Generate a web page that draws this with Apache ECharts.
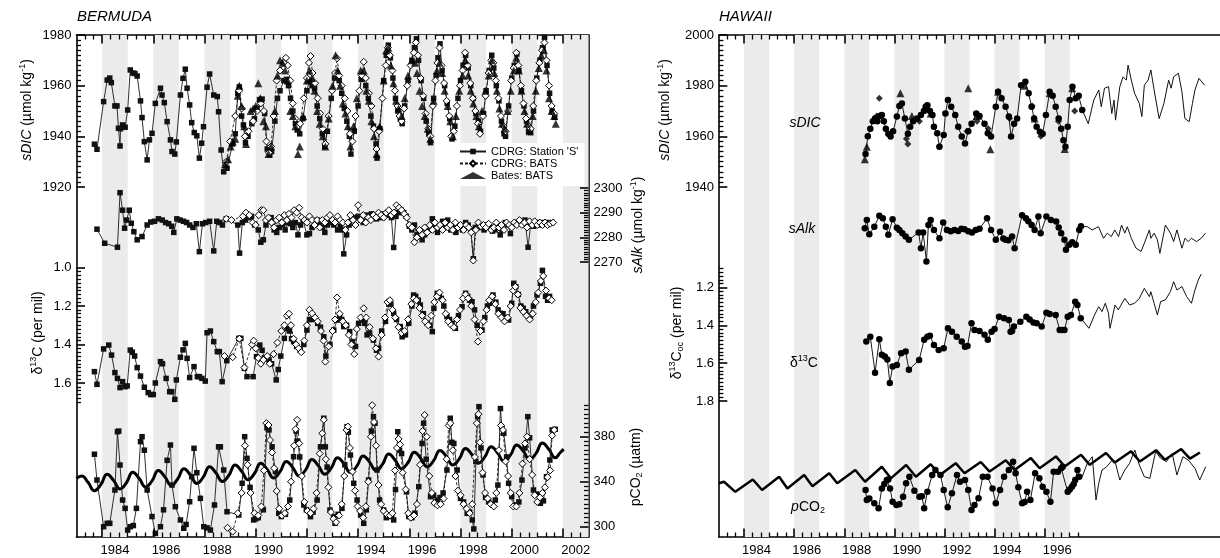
<!DOCTYPE html>
<html><head><meta charset="utf-8">
<script src="https://cdn.jsdelivr.net/npm/echarts/dist/echarts.min.js"></script>
<style>html,body{margin:0;padding:0;background:#fff}#c{width:1220px;height:558px}</style>
</head><body><div id="c"></div>
<script>
// ---------------- axis / tick data ----------------
const B_YEAR_LABELS = [1984,1986,1988,1990,1992,1994,1996,1998,2000,2002];
const H_YEAR_LABELS = [1984,1986,1988,1990,1992,1994,1996];
const B_STRIPES = [1984,1986,1988,1990,1992,1994,1996,1998,2000,2002];
const H_STRIPES = [1984,1986,1988,1990,1992,1994,1996];
const B_TICK_END = 2002.9, H_TICK_END = 1997.34;

// ---------------- BERMUDA data ----------------
const bSdicS = [[1983.70,1936.9],[1983.80,1934.9],[1984.06,1953.7],[1984.20,1962.2],[1984.30,1963.0],[1984.36,1961.2],[1984.50,1952.0],[1984.58,1952.0],[1984.64,1943.2],[1984.70,1936.2],[1984.72,1943.0],[1984.80,1944.5],[1984.90,1943.6],[1985.00,1950.4],[1985.10,1966.2],[1985.20,1965.0],[1985.28,1964.8],[1985.37,1963.8],[1985.50,1954.0],[1985.56,1947.4],[1985.65,1937.9],[1985.76,1930.7],[1985.85,1938.6],[1985.95,1941.2],[1986.08,1953.0],[1986.28,1959.0],[1986.34,1956.3],[1986.43,1953.3],[1986.54,1945.8],[1986.67,1938.6],[1986.73,1934.0],[1986.84,1933.0],[1986.90,1937.8],[1987.06,1956.3],[1987.16,1962.9],[1987.25,1966.5],[1987.32,1959.0],[1987.42,1952.4],[1987.50,1945.4],[1987.60,1941.5],[1987.70,1940.2],[1987.80,1931.4],[1987.89,1937.3],[1987.96,1943.8],[1988.10,1959.4],[1988.20,1964.6],[1988.36,1956.3],[1988.50,1955.7],[1988.55,1949.7],[1988.65,1934.6],[1988.75,1926.0],[1988.88,1927.4],[1989.10,1937.0],[1989.20,1941.0],[1989.30,1957.0],[1989.36,1959.5],[1989.45,1948.0],[1989.52,1944.5],[1989.60,1937.5],[1989.70,1940.0],[1989.85,1945.0],[1989.95,1947.0],[1990.05,1951.0],[1990.15,1954.5],[1990.25,1954.7],[1990.35,1949.0],[1990.45,1935.0],[1990.55,1932.7],[1990.62,1934.0],[1990.75,1946.0],[1990.85,1955.0],[1990.95,1958.0],[1991.10,1962.0],[1991.20,1962.5],[1991.28,1960.0],[1991.36,1955.0],[1991.45,1950.0],[1991.55,1945.0],[1991.62,1942.5],[1991.72,1941.0],[1991.85,1947.0],[1992.00,1958.0],[1992.10,1962.0],[1992.20,1960.0],[1992.30,1959.0],[1992.40,1952.0],[1992.50,1947.0],[1992.60,1941.0],[1992.70,1936.0],[1992.80,1942.0],[1992.95,1955.0],[1993.08,1963.0],[1993.18,1965.0],[1993.26,1962.0],[1993.36,1957.0],[1993.46,1951.0],[1993.56,1946.0],[1993.66,1940.0],[1993.72,1933.0],[1993.85,1942.0],[1994.00,1952.0],[1994.12,1962.5],[1994.22,1963.0],[1994.30,1960.0],[1994.40,1955.0],[1994.50,1948.0],[1994.60,1944.0],[1994.70,1937.0],[1994.74,1931.4],[1994.85,1943.0],[1995.00,1962.0],[1995.10,1972.0],[1995.18,1976.0],[1995.26,1971.0],[1995.36,1963.0],[1995.46,1955.0],[1995.55,1950.0],[1995.65,1947.0],[1995.72,1945.0],[1995.82,1952.0],[1995.95,1962.0],[1996.10,1970.0],[1996.20,1975.0],[1996.28,1978.5],[1996.36,1970.0],[1996.46,1962.0],[1996.56,1955.0],[1996.66,1946.0],[1996.76,1941.0],[1996.83,1937.5],[1996.95,1955.0],[1997.05,1964.0],[1997.12,1971.0],[1997.20,1976.5],[1997.28,1966.0],[1997.38,1960.0],[1997.48,1953.0],[1997.58,1947.0],[1997.67,1939.0],[1997.78,1944.0],[1997.90,1955.0],[1998.00,1962.0],[1998.10,1968.0],[1998.20,1972.0],[1998.30,1967.0],[1998.40,1960.0],[1998.50,1955.0],[1998.60,1949.0],[1998.70,1946.0],[1998.78,1942.0],[1998.90,1949.0],[1999.00,1958.0],[1999.12,1966.0],[1999.22,1972.0],[1999.30,1967.0],[1999.40,1960.0],[1999.50,1954.0],[1999.60,1946.0],[1999.70,1941.0],[1999.76,1940.0],[1999.88,1952.0],[2000.00,1963.0],[2000.10,1968.0],[2000.20,1972.5],[2000.28,1966.0],[2000.38,1958.0],[2000.48,1952.0],[2000.58,1946.0],[2000.66,1942.0],[2000.74,1941.5],[2000.85,1950.0],[2000.98,1963.0],[2001.10,1970.0],[2001.20,1975.0],[2001.28,1979.0],[2001.38,1968.0],[2001.48,1957.0],[2001.58,1950.0],[2001.68,1947.5]];
const bSdicB = [[1988.85,1930],[1989.00,1938],[1989.20,1948],[1989.35,1958],[1989.45,1951],[1989.58,1940],[1989.72,1942],[1989.90,1946],[1990.05,1950],[1990.20,1953],[1990.32,1950],[1990.42,1938],[1990.52,1933.5],[1990.60,1936],[1990.70,1948],[1990.82,1962],[1990.95,1966],[1991.10,1969],[1991.18,1971],[1991.25,1968],[1991.35,1962],[1991.45,1953],[1991.55,1947],[1991.64,1944],[1991.74,1945],[1991.88,1955],[1992.00,1963],[1992.08,1969],[1992.14,1971.7],[1992.22,1965],[1992.32,1961],[1992.42,1955],[1992.52,1949],[1992.62,1943],[1992.72,1937],[1992.85,1948],[1992.98,1958],[1993.10,1965],[1993.18,1970.8],[1993.26,1964],[1993.36,1960],[1993.48,1955],[1993.58,1950],[1993.68,1941],[1993.78,1938],[1993.90,1948],[1994.05,1958],[1994.15,1964],[1994.22,1969.4],[1994.30,1963],[1994.42,1957],[1994.52,1952],[1994.62,1943],[1994.72,1935],[1994.82,1942],[1994.95,1955],[1995.08,1968],[1995.16,1975],[1995.24,1972],[1995.34,1966],[1995.44,1958],[1995.54,1952],[1995.62,1948],[1995.70,1946],[1995.80,1951],[1995.92,1960],[1996.05,1968],[1996.18,1973],[1996.26,1977],[1996.34,1972],[1996.44,1963],[1996.54,1956],[1996.64,1949],[1996.74,1943],[1996.82,1940],[1996.92,1952],[1997.02,1962],[1997.10,1969],[1997.18,1975],[1997.26,1968],[1997.36,1961],[1997.46,1954],[1997.56,1948],[1997.64,1940],[1997.74,1942],[1997.86,1952],[1997.98,1960],[1998.08,1966],[1998.18,1973],[1998.28,1968],[1998.38,1961],[1998.48,1955],[1998.58,1950],[1998.68,1945],[1998.76,1941],[1998.88,1948],[1998.98,1956],[1999.10,1965],[1999.20,1970],[1999.28,1969],[1999.38,1962],[1999.48,1955],[1999.58,1948],[1999.68,1944],[1999.76,1942],[1999.86,1950],[1999.98,1962],[2000.08,1967],[2000.18,1973],[2000.26,1968],[2000.36,1960],[2000.46,1953],[2000.56,1947],[2000.66,1944],[2000.74,1943],[2000.84,1952],[2000.96,1962],[2001.08,1969],[2001.18,1974],[2001.28,1977],[2001.36,1970],[2001.46,1960],[2001.56,1952],[2001.66,1949]];
const bSdicT = [[1988.80,1929],[1988.92,1931],[1989.02,1936],[1989.10,1938],[1989.20,1939],[1989.30,1956],[1989.36,1960],[1989.45,1952],[1989.55,1944],[1989.62,1937],[1989.80,1950],[1989.90,1951],[1990.00,1952],[1990.10,1961],[1990.18,1955],[1990.30,1946],[1990.40,1944],[1990.50,1933],[1990.60,1936],[1990.75,1950],[1990.85,1964],[1990.95,1970],[1991.05,1969],[1991.15,1966],[1991.25,1962],[1991.35,1950],[1991.45,1948],[1991.55,1944],[1991.65,1933],[1991.72,1936],[1991.85,1948],[1992.00,1962],[1992.10,1966],[1992.20,1963],[1992.30,1958],[1992.40,1950],[1992.50,1945],[1992.62,1940],[1992.72,1936],[1992.85,1947],[1993.00,1960],[1993.12,1972],[1993.20,1966],[1993.30,1960],[1993.40,1953],[1993.50,1949],[1993.60,1944],[1993.70,1936],[1993.82,1944],[1993.95,1955],[1994.10,1966],[1994.22,1966],[1994.32,1958],[1994.42,1954],[1994.52,1946],[1994.62,1940],[1994.72,1933],[1994.84,1944],[1995.00,1962],[1995.10,1974],[1995.18,1975],[1995.28,1968],[1995.38,1961],[1995.48,1954],[1995.58,1951],[1995.70,1948],[1995.82,1955],[1995.95,1964],[1996.10,1970],[1996.22,1969],[1996.30,1965],[1996.40,1958],[1996.50,1952],[1996.60,1948],[1996.72,1943],[1996.82,1939],[1996.95,1954],[1997.08,1966],[1997.18,1969],[1997.28,1965],[1997.38,1958],[1997.50,1952],[1997.60,1946],[1997.70,1940],[1997.82,1948],[1997.95,1958],[1998.08,1964],[1998.18,1970],[1998.30,1964],[1998.40,1958],[1998.50,1953],[1998.62,1948],[1998.72,1944],[1998.84,1950],[1998.98,1958],[1999.10,1964],[1999.22,1970],[1999.32,1965],[1999.42,1958],[1999.52,1951],[1999.62,1945],[1999.72,1943],[1999.84,1950],[1999.96,1958],[2000.08,1966],[2000.18,1971],[2000.28,1966],[2000.38,1958],[2000.50,1950],[2000.60,1945],[2000.70,1942],[2000.82,1948],[2000.94,1958],[2001.06,1967],[2001.16,1972],[2001.26,1974],[2001.36,1966],[2001.46,1955],[2001.56,1950],[2001.66,1948],[2001.72,1945]];

const bAlkS = [[1983.80,2283.3],[1984.10,2277.6],[1984.60,2276.0],[1984.70,2298.1],[1984.80,2291.0],[1984.88,2283.7],[1984.96,2287.0],[1985.06,2291.0],[1985.14,2285.7],[1985.24,2282.3],[1985.37,2279.0],[1985.56,2280.3],[1985.76,2285.0],[1985.90,2286.2],[1986.05,2286.5],[1986.20,2287.5],[1986.35,2287.0],[1986.48,2286.0],[1986.60,2285.5],[1986.72,2284.5],[1986.80,2282.0],[1986.92,2287.5],[1987.05,2287.0],[1987.18,2286.5],[1987.30,2286.0],[1987.42,2285.0],[1987.55,2284.0],[1987.68,2285.5],[1987.80,2274.2],[1987.92,2285.5],[1988.05,2286.0],[1988.20,2286.5],[1988.36,2274.5],[1988.48,2286.5],[1988.60,2286.0],[1988.70,2285.0],[1988.85,2287.5],[1989.30,2285.0],[1989.37,2273.6],[1989.48,2286.0],[1989.60,2287.0],[1989.72,2288.0],[1989.84,2288.5],[1989.96,2285.0],[1990.10,2283.0],[1990.20,2278.0],[1990.30,2279.0],[1990.40,2285.0],[1990.50,2287.0],[1990.60,2288.0],[1990.72,2283.0],[1990.82,2282.0],[1990.92,2284.0],[1991.05,2285.0],[1991.15,2283.0],[1991.25,2286.0],[1991.35,2285.5],[1991.45,2284.0],[1991.55,2286.0],[1991.65,2281.0],[1991.75,2285.0],[1991.85,2287.0],[1992.00,2281.0],[1992.10,2281.5],[1992.20,2284.0],[1992.30,2286.0],[1992.40,2287.0],[1992.50,2285.0],[1992.60,2284.0],[1992.70,2282.0],[1992.80,2285.0],[1992.90,2286.0],[1993.05,2285.0],[1993.20,2283.0],[1993.30,2284.5],[1993.40,2283.0],[1993.44,2273.3],[1993.55,2281.0],[1993.65,2285.0],[1993.75,2287.0],[1993.85,2288.0],[1994.00,2288.5],[1994.10,2287.0],[1994.20,2286.0],[1994.32,2289.0],[1994.42,2288.0],[1994.52,2289.5],[1994.62,2288.0],[1994.72,2287.5],[1994.82,2289.0],[1994.92,2288.0],[1995.02,2289.5],[1995.12,2289.0],[1995.22,2289.0],[1995.30,2288.0],[1995.39,2275.9],[1995.48,2288.5],[1995.58,2290.0],[1995.68,2291.0],[1995.78,2290.0],[1995.88,2288.5],[1996.00,2284.5],[1996.10,2283.0],[1996.20,2285.0],[1996.30,2281.0],[1996.40,2282.5],[1996.50,2279.0],[1996.60,2281.0],[1996.70,2283.5],[1996.80,2284.0],[1996.90,2287.5],[1997.00,2285.0],[1997.10,2282.0],[1997.20,2284.0],[1997.30,2286.5],[1997.40,2285.0],[1997.50,2287.0],[1997.62,2283.0],[1997.72,2284.5],[1997.82,2282.0],[1997.95,2284.0],[1998.08,2283.0],[1998.20,2286.0],[1998.30,2285.0],[1998.40,2283.0],[1998.50,2271.3],[1998.58,2284.0],[1998.70,2285.0],[1998.80,2284.0],[1998.92,2283.0],[1999.05,2285.0],[1999.15,2284.0],[1999.25,2282.5],[1999.35,2283.0],[1999.45,2285.0],[1999.55,2281.0],[1999.65,2283.0],[1999.75,2286.0],[1999.85,2285.0],[1999.95,2281.5],[2000.08,2285.5],[2000.20,2286.0],[2000.32,2285.5],[2000.42,2286.0],[2000.52,2287.0],[2000.64,2276.0],[2000.75,2286.0],[2000.85,2284.5],[2000.95,2286.0],[2001.05,2285.0],[2001.15,2286.0],[2001.30,2285.5],[2001.45,2286.0]];
const bAlkB = [[1988.85,2287.5],[1989.05,2287.0],[1989.50,2288.5],[1989.62,2290.0],[1989.75,2289.0],[1989.88,2286.0],[1990.00,2285.0],[1990.12,2289.0],[1990.22,2291.0],[1990.30,2291.0],[1990.40,2287.0],[1990.50,2288.0],[1990.62,2286.0],[1990.72,2284.0],[1990.82,2287.0],[1990.92,2288.0],[1991.02,2286.0],[1991.12,2289.0],[1991.22,2287.0],[1991.30,2289.5],[1991.40,2288.0],[1991.50,2291.0],[1991.60,2290.0],[1991.70,2292.0],[1991.80,2288.0],[1991.90,2287.0],[1992.00,2286.0],[1992.10,2288.5],[1992.20,2287.0],[1992.30,2285.0],[1992.40,2287.0],[1992.50,2284.0],[1992.60,2287.0],[1992.70,2286.0],[1992.80,2288.0],[1992.90,2289.0],[1993.00,2287.0],[1993.10,2286.0],[1993.20,2288.5],[1993.30,2287.0],[1993.40,2286.0],[1993.50,2283.0],[1993.60,2286.0],[1993.70,2289.0],[1993.80,2287.0],[1993.90,2285.0],[1994.00,2293.0],[1994.10,2287.0],[1994.20,2289.0],[1994.30,2286.0],[1994.40,2288.0],[1994.50,2287.0],[1994.60,2289.0],[1994.70,2288.0],[1994.80,2290.0],[1994.90,2289.0],[1995.00,2288.0],[1995.10,2290.0],[1995.20,2291.0],[1995.30,2289.0],[1995.40,2290.0],[1995.50,2293.0],[1995.60,2292.0],[1995.70,2291.0],[1995.80,2289.5],[1995.90,2288.0],[1996.00,2285.0],[1996.10,2284.0],[1996.20,2278.0],[1996.30,2280.0],[1996.40,2283.0],[1996.50,2281.0],[1996.60,2284.0],[1996.70,2282.0],[1996.80,2285.0],[1996.90,2283.0],[1997.00,2286.0],[1997.10,2284.0],[1997.20,2285.0],[1997.30,2283.0],[1997.40,2286.0],[1997.50,2284.0],[1997.60,2285.0],[1997.70,2283.0],[1997.80,2286.0],[1997.90,2284.0],[1998.00,2285.0],[1998.12,2283.0],[1998.22,2285.0],[1998.32,2284.0],[1998.42,2282.0],[1998.50,2270.6],[1998.60,2283.0],[1998.70,2286.0],[1998.80,2284.5],[1998.90,2285.0],[1999.00,2284.0],[1999.10,2285.5],[1999.20,2283.0],[1999.30,2284.0],[1999.40,2286.0],[1999.50,2284.0],[1999.60,2285.0],[1999.70,2283.0],[1999.80,2286.0],[1999.90,2285.0],[2000.00,2284.0],[2000.10,2286.0],[2000.20,2285.0],[2000.30,2287.0],[2000.40,2285.0],[2000.50,2286.0],[2000.60,2284.0],[2000.70,2286.5],[2000.80,2285.0],[2000.90,2286.5],[2001.00,2285.0],[2001.10,2286.0],[2001.20,2285.0],[2001.30,2286.0],[2001.40,2285.0],[2001.50,2285.5],[2001.62,2286.0]];

const bD13S = [[1983.70,1.541],[1983.80,1.607],[1984.06,1.423],[1984.26,1.403],[1984.37,1.455],[1984.50,1.546],[1984.60,1.576],[1984.70,1.624],[1984.80,1.593],[1984.90,1.619],[1984.98,1.615],[1985.10,1.429],[1985.18,1.44],[1985.27,1.46],[1985.37,1.52],[1985.50,1.564],[1985.65,1.622],[1985.80,1.65],[1985.90,1.66],[1986.00,1.66],[1986.08,1.60],[1986.28,1.489],[1986.36,1.50],[1986.50,1.576],[1986.64,1.645],[1986.72,1.645],[1986.84,1.685],[1986.90,1.584],[1987.06,1.466],[1987.16,1.428],[1987.25,1.394],[1987.32,1.472],[1987.42,1.572],[1987.59,1.515],[1987.72,1.567],[1987.80,1.567],[1987.90,1.576],[1988.03,1.59],[1988.10,1.339],[1988.23,1.33],[1988.36,1.385],[1988.50,1.437],[1988.58,1.437],[1988.69,1.593],[1988.87,1.484],[1989.34,1.368],[1989.42,1.368],[1989.56,1.524],[1989.66,1.567],[1989.90,1.567],[1990.03,1.463],[1990.16,1.403],[1990.25,1.43],[1990.34,1.47],[1990.44,1.475],[1990.52,1.48],[1990.62,1.50],[1990.80,1.584],[1990.88,1.53],[1990.98,1.46],[1991.12,1.368],[1991.22,1.316],[1991.32,1.33],[1991.40,1.37],[1991.48,1.385],[1991.60,1.41],[1991.74,1.43],[1991.88,1.40],[1992.00,1.325],[1992.10,1.27],[1992.20,1.27],[1992.30,1.264],[1992.42,1.29],[1992.53,1.31],[1992.66,1.36],[1992.74,1.46],[1992.90,1.40],[1993.05,1.325],[1993.18,1.273],[1993.28,1.26],[1993.36,1.27],[1993.44,1.307],[1993.55,1.30],[1993.67,1.333],[1993.77,1.385],[1993.90,1.41],[1994.02,1.29],[1994.16,1.273],[1994.26,1.29],[1994.35,1.35],[1994.45,1.34],[1994.60,1.377],[1994.72,1.43],[1994.80,1.42],[1994.92,1.33],[1995.07,1.28],[1995.20,1.19],[1995.28,1.19],[1995.39,1.238],[1995.50,1.27],[1995.65,1.307],[1995.72,1.36],[1995.85,1.35],[1995.98,1.29],[1996.10,1.20],[1996.17,1.143],[1996.25,1.15],[1996.35,1.17],[1996.43,1.195],[1996.55,1.24],[1996.70,1.29],[1996.80,1.30],[1996.90,1.333],[1996.96,1.212],[1997.09,1.134],[1997.17,1.14],[1997.25,1.16],[1997.35,1.20],[1997.47,1.255],[1997.57,1.27],[1997.67,1.29],[1997.80,1.316],[1997.92,1.25],[1998.06,1.204],[1998.20,1.134],[1998.28,1.15],[1998.36,1.17],[1998.45,1.178],[1998.55,1.22],[1998.65,1.30],[1998.84,1.325],[1998.95,1.26],[1999.05,1.20],[1999.14,1.186],[1999.27,1.143],[1999.38,1.18],[1999.47,1.22],[1999.56,1.238],[1999.66,1.24],[1999.76,1.26],[1999.88,1.273],[2000.00,1.186],[2000.08,1.082],[2000.16,1.10],[2000.26,1.14],[2000.36,1.20],[2000.45,1.212],[2000.55,1.23],[2000.66,1.25],[2000.73,1.255],[2000.85,1.20],[2000.99,1.143],[2001.12,1.082],[2001.20,1.015],[2001.32,1.15],[2001.40,1.17],[2001.48,1.15]];
const bD13B = [[1988.78,1.46],[1989.10,1.466],[1989.36,1.37],[1989.56,1.52],[1989.86,1.40],[1989.92,1.38],[1990.00,1.42],[1990.10,1.47],[1990.20,1.50],[1990.30,1.48],[1990.45,1.46],[1990.55,1.50],[1990.70,1.45],[1990.85,1.39],[1991.00,1.33],[1991.12,1.30],[1991.22,1.25],[1991.30,1.24],[1991.38,1.30],[1991.48,1.37],[1991.58,1.40],[1991.68,1.42],[1991.78,1.44],[1991.90,1.38],[1992.00,1.30],[1992.10,1.22],[1992.20,1.238],[1992.32,1.26],[1992.42,1.28],[1992.55,1.33],[1992.65,1.38],[1992.72,1.489],[1992.85,1.41],[1993.00,1.33],[1993.10,1.27],[1993.18,1.156],[1993.28,1.24],[1993.40,1.28],[1993.52,1.30],[1993.64,1.35],[1993.74,1.40],[1993.85,1.45],[1993.95,1.32],[1994.10,1.26],[1994.22,1.212],[1994.32,1.26],[1994.45,1.31],[1994.58,1.37],[1994.70,1.42],[1994.80,1.463],[1994.92,1.35],[1995.05,1.26],[1995.15,1.18],[1995.24,1.17],[1995.34,1.22],[1995.45,1.26],[1995.58,1.31],[1995.70,1.34],[1995.82,1.33],[1995.95,1.27],[1996.08,1.19],[1996.18,1.16],[1996.28,1.17],[1996.40,1.21],[1996.50,1.25],[1996.62,1.28],[1996.74,1.30],[1996.86,1.25],[1996.98,1.18],[1997.08,1.15],[1997.18,1.13],[1997.30,1.17],[1997.42,1.24],[1997.52,1.28],[1997.64,1.30],[1997.74,1.31],[1997.86,1.27],[1997.98,1.22],[1998.10,1.16],[1998.20,1.14],[1998.30,1.16],[1998.42,1.20],[1998.55,1.27],[1998.68,1.385],[1998.78,1.33],[1998.90,1.28],[1999.02,1.22],[1999.12,1.17],[1999.24,1.15],[1999.36,1.19],[1999.48,1.24],[1999.60,1.26],[1999.72,1.28],[1999.84,1.26],[1999.96,1.20],[2000.06,1.12],[2000.14,1.10],[2000.24,1.14],[2000.34,1.21],[2000.46,1.23],[2000.58,1.25],[2000.70,1.27],[2000.82,1.24],[2000.94,1.18],[2001.04,1.13],[2001.14,1.07],[2001.23,1.044],[2001.34,1.12],[2001.46,1.16],[2001.56,1.17]];

const bPco2S = [[1983.70,364.4],[1983.80,341.5],[1984.06,300],[1984.20,303],[1984.30,303],[1984.50,332.6],[1984.60,384.4],[1984.65,385],[1984.70,354.8],[1984.80,323.7],[1984.90,316.3],[1985.00,297],[1985.10,300],[1985.22,301],[1985.34,316.3],[1985.50,375.6],[1985.56,380],[1985.65,368],[1985.76,332.6],[1985.95,309],[1986.08,294],[1986.28,300],[1986.40,315],[1986.54,359],[1986.67,372.6],[1986.73,337],[1986.86,317.8],[1987.06,306],[1987.19,298.6],[1987.28,302],[1987.42,322.2],[1987.50,344.4],[1987.59,369.7],[1987.70,348],[1987.84,325.2],[1987.97,300],[1988.10,299],[1988.23,297],[1988.39,319.3],[1988.55,371],[1988.62,371],[1988.75,350.4],[1988.88,313.3],[1989.34,310.4],[1989.47,338.6],[1989.57,380],[1989.66,360.8],[1989.78,335],[1989.92,306],[1990.00,307],[1990.10,308],[1990.30,315],[1990.44,388],[1990.52,386],[1990.64,371],[1990.77,349],[1990.90,311.9],[1991.00,309],[1991.16,311],[1991.33,323.7],[1991.48,362.2],[1991.58,385],[1991.64,376],[1991.72,362],[1991.88,319.3],[1991.98,315],[1992.14,308.9],[1992.24,313],[1992.40,323.7],[1992.53,371],[1992.66,396.4],[1992.72,371],[1992.79,353],[1992.90,314.8],[1993.05,309],[1993.10,303],[1993.22,311],[1993.37,316.3],[1993.48,355],[1993.57,388.9],[1993.62,384],[1993.70,363.7],[1993.83,338.6],[1993.96,323.7],[1994.10,310.4],[1994.22,303],[1994.32,315],[1994.41,341.5],[1994.52,385],[1994.60,397.8],[1994.66,392],[1994.74,350.4],[1994.84,323.7],[1995.00,314.8],[1995.10,308],[1995.22,309],[1995.30,310],[1995.39,306],[1995.46,333],[1995.55,384.4],[1995.62,368],[1995.70,365],[1995.89,331],[1995.98,309],[1996.10,308],[1996.22,312],[1996.37,335.6],[1996.50,374],[1996.56,392],[1996.66,360],[1996.83,326.7],[1996.95,328],[1997.09,323.7],[1997.20,326],[1997.32,330],[1997.47,350.4],[1997.60,396.4],[1997.66,375],[1997.74,374],[1997.87,350.4],[1998.00,325.2],[1998.12,322],[1998.26,311.9],[1998.36,313],[1998.46,306],[1998.52,298],[1998.60,358],[1998.67,397.8],[1998.72,406.7],[1998.80,370],[1998.88,346],[1998.98,326],[1999.10,322.2],[1999.22,320],[1999.36,323.7],[1999.46,337],[1999.56,405],[1999.62,388],[1999.69,383],[1999.80,362],[1999.88,338.6],[2000.00,326.7],[2000.15,319.3],[2000.28,322],[2000.40,341.5],[2000.52,370],[2000.63,397.8],[2000.70,379],[2000.85,332.6],[2000.98,329],[2001.12,320.8],[2001.24,323],[2001.36,344.4],[2001.49,359.3],[2001.58,386],[2001.70,386.6]];
const bPco2B = [[1988.90,299],[1989.10,295.6],[1989.30,312],[1989.45,330],[1989.58,372],[1989.68,355],[1989.80,330],[1989.95,312],[1990.10,310],[1990.22,318],[1990.32,350],[1990.42,392],[1990.50,390.4],[1990.56,377],[1990.64,366],[1990.72,352],[1990.82,331.7],[1990.92,316],[1991.02,310],[1991.14,312],[1991.26,318],[1991.38,340],[1991.50,372],[1991.56,386.6],[1991.62,395],[1991.70,374],[1991.80,345],[1991.90,322],[1992.02,314],[1992.14,312],[1992.26,316],[1992.38,330],[1992.50,365],[1992.60,383],[1992.66,395],[1992.74,360],[1992.84,335],[1992.94,313],[1993.04,307],[1993.14,304],[1993.26,310],[1993.36,320],[1993.46,345],[1993.55,386],[1993.60,389],[1993.68,370],[1993.78,349],[1993.88,332],[1993.98,318],[1994.08,314],[1994.20,308],[1994.30,318],[1994.40,340],[1994.50,380],[1994.55,408],[1994.62,393],[1994.70,372],[1994.80,337],[1994.90,320],[1995.00,314],[1995.12,311],[1995.24,310],[1995.34,312],[1995.44,350],[1995.52,370],[1995.58,378],[1995.64,373],[1995.74,348],[1995.86,333],[1995.96,312],[1996.06,308],[1996.18,310],[1996.30,320],[1996.42,355],[1996.52,385],[1996.60,399.3],[1996.68,380],[1996.78,345],[1996.88,330],[1996.98,321],[1997.10,319],[1997.22,320],[1997.34,325],[1997.46,360],[1997.54,390],[1997.60,392],[1997.70,368],[1997.80,345],[1997.90,332],[1998.00,328],[1998.12,320],[1998.24,316],[1998.36,312],[1998.46,320],[1998.56,362],[1998.64,392],[1998.70,400],[1998.76,375],[1998.86,348],[1998.96,330],[1999.06,325],[1999.18,320],[1999.30,318],[1999.40,330],[1999.50,368],[1999.58,390],[1999.66,386],[1999.76,358],[1999.86,345],[1999.96,330],[2000.06,318],[2000.18,318],[2000.30,330],[2000.42,356],[2000.52,374],[2000.60,380],[2000.70,360],[2000.80,346],[2000.90,328],[2001.00,322],[2001.10,326],[2001.20,330],[2001.30,335],[2001.40,344],[2001.50,350],[2001.58,381],[2001.66,386]];
const bPco2Atm = [[1983.0,343.0],[1983.2,345.0],[1983.45,339.5],[1983.7,332.0],[1983.95,337.5],[1984.2,346.6],[1984.45,341.1],[1984.7,333.6],[1984.95,339.1],[1985.2,348.3],[1985.45,342.8],[1985.7,335.3],[1985.95,340.8],[1986.2,349.9],[1986.45,344.4],[1986.7,336.9],[1986.95,342.4],[1987.2,351.5],[1987.45,346.0],[1987.7,338.5],[1987.95,344.0],[1988.2,353.2],[1988.45,347.7],[1988.7,340.2],[1988.95,345.7],[1989.2,354.8],[1989.45,349.3],[1989.7,341.8],[1989.95,347.3],[1990.2,356.4],[1990.45,350.9],[1990.7,343.4],[1990.95,348.9],[1991.2,358.0],[1991.45,352.5],[1991.7,345.0],[1991.95,350.5],[1992.2,359.7],[1992.45,354.2],[1992.7,346.7],[1992.95,352.2],[1993.2,361.3],[1993.45,355.8],[1993.7,348.3],[1993.95,353.8],[1994.2,362.9],[1994.45,357.4],[1994.7,349.9],[1994.95,355.4],[1995.2,364.6],[1995.45,359.1],[1995.7,351.6],[1995.95,357.1],[1996.2,366.2],[1996.45,360.7],[1996.7,353.2],[1996.95,358.7],[1997.2,367.8],[1997.45,362.3],[1997.7,354.8],[1997.95,360.3],[1998.2,369.5],[1998.45,364.0],[1998.7,356.5],[1998.95,362.0],[1999.2,371.1],[1999.45,365.6],[1999.7,358.1],[1999.95,363.6],[2000.2,372.7],[2000.45,367.2],[2000.7,359.7],[2000.95,365.2],[2001.2,374.3],[2001.45,368.8],[2001.7,361.3],[2001.9,366.0],[2002.03,369.0]];

// ---------------- HAWAII data ----------------
const hSdic = [[1988.85,1953],[1988.94,1960],[1989.04,1963],[1989.14,1966],[1989.23,1967],[1989.32,1966],[1989.42,1968],[1989.50,1968.4],[1989.58,1966],[1989.66,1963],[1989.76,1961],[1989.85,1959.9],[1989.95,1962],[1990.10,1967.8],[1990.20,1972],[1990.30,1973],[1990.42,1967],[1990.54,1961],[1990.63,1963.8],[1990.75,1966],[1990.90,1967],[1991.06,1968.4],[1991.18,1970],[1991.25,1971.7],[1991.32,1972.3],[1991.42,1970],[1991.52,1968.4],[1991.58,1963.8],[1991.71,1961.2],[1991.80,1955.9],[1991.97,1960.5],[1992.04,1969],[1992.14,1974.3],[1992.27,1971.7],[1992.43,1968.4],[1992.55,1963.8],[1992.69,1959.9],[1992.82,1957.2],[1992.95,1962],[1993.08,1965],[1993.27,1969],[1993.40,1968],[1993.60,1965],[1993.73,1961.2],[1993.86,1959.9],[1994.05,1971.7],[1994.14,1977.6],[1994.28,1975],[1994.44,1971.7],[1994.57,1967.8],[1994.66,1959.9],[1994.78,1965],[1994.90,1967],[1995.06,1980.2],[1995.23,1981.5],[1995.36,1977],[1995.48,1971.7],[1995.58,1967],[1995.68,1963.8],[1995.81,1961.8],[1995.92,1961],[1996.05,1968.4],[1996.20,1977.6],[1996.32,1976],[1996.44,1971.7],[1996.56,1967],[1996.66,1963],[1996.75,1958.5],[1996.83,1955.9],[1996.92,1963.8],[1997.00,1974.3],[1997.11,1979.6],[1997.24,1975],[1997.36,1976],[1997.50,1970.4]];
const hSdicTri = [[1988.82,1951],[1988.90,1955.9],[1989.23,1967],[1990.24,1977],[1990.70,1968],[1991.25,1972],[1991.45,1969],[1992.95,1979],[1993.30,1968],[1993.83,1954.9],[1994.14,1977.6],[1995.20,1980],[1995.60,1967],[1996.20,1977],[1996.80,1955],[1997.10,1979]];
const hSdicDia = [[1989.40,1975],[1989.30,1968],[1990.54,1957],[1990.48,1959],[1991.00,1966],[1991.80,1955.9],[1992.90,1962],[1993.30,1966],[1993.75,1963],[1994.60,1967],[1995.50,1972],[1995.85,1960],[1996.55,1966],[1997.20,1970]];
const hSdicLate = [[1997.50,1970.4],[1997.74,1965],[1997.96,1974.3],[1998.16,1978.3],[1998.26,1971.7],[1998.39,1979],[1998.55,1979.6],[1998.68,1969],[1998.77,1974.3],[1998.83,1966.4],[1999.00,1979.6],[1999.13,1983.5],[1999.26,1982.2],[1999.33,1988.1],[1999.46,1982.2],[1999.59,1977],[1999.78,1973],[1999.88,1967.8],[1999.98,1980.2],[2000.13,1982.2],[2000.24,1986.2],[2000.37,1978.3],[2000.57,1967],[2000.76,1973],[2000.95,1982.2],[2001.05,1979],[2001.15,1983.5],[2001.34,1984.9],[2001.48,1977.6],[2001.60,1967],[2001.77,1965.8],[2001.90,1973],[2002.00,1978.3],[2002.16,1982.9],[2002.38,1980.2]];

const hAlk = [[1988.82,2283.7],[1988.90,2287],[1989.00,2281.2],[1989.20,2284.3],[1989.40,2288.7],[1989.54,2287.7],[1989.66,2284.3],[1989.76,2281],[1989.93,2287.3],[1990.10,2283.9],[1990.20,2283],[1990.32,2281.7],[1990.45,2280.3],[1990.58,2279],[1990.97,2282],[1991.06,2275.6],[1991.15,2282],[1991.28,2270.2],[1991.36,2285],[1991.45,2287],[1991.58,2283],[1991.80,2279.6],[1991.95,2286],[1992.10,2283],[1992.25,2282.5],[1992.40,2283],[1992.55,2282.6],[1992.68,2283.5],[1992.80,2283.3],[1992.95,2282.5],[1993.10,2282],[1993.25,2283],[1993.40,2283.5],[1993.70,2287.7],[1993.86,2283],[1994.05,2279],[1994.22,2282.3],[1994.35,2279.5],[1994.44,2279],[1994.55,2278.8],[1994.70,2280.3],[1994.80,2275.6],[1995.10,2289],[1995.25,2287.7],[1995.35,2286.5],[1995.48,2285],[1995.60,2283],[1995.75,2288.4],[1995.84,2281.7],[1996.07,2288.4],[1996.25,2287],[1996.46,2286.4],[1996.56,2284],[1996.66,2281.7],[1996.79,2279],[1996.85,2275],[1996.98,2277],[1997.10,2278],[1997.24,2277],[1997.38,2283],[1997.45,2284.5]];
const hAlkLate = [[1997.45,2284.5],[1997.70,2284.3],[1997.90,2283],[1998.15,2284.3],[1998.35,2279.6],[1998.50,2281.7],[1998.66,2280.3],[1998.80,2283],[1998.95,2280.3],[1999.07,2285],[1999.20,2281.7],[1999.30,2284.3],[1999.46,2279.6],[1999.65,2275.6],[1999.85,2274.3],[1999.98,2277.6],[2000.18,2283],[2000.24,2279.6],[2000.37,2281.7],[2000.50,2279],[2000.60,2273.5],[2000.82,2285],[2001.02,2281.7],[2001.15,2278.3],[2001.28,2283],[2001.48,2275.6],[2001.60,2279.6],[2001.73,2278.3],[2001.86,2279.6],[2002.06,2278.3],[2002.25,2279.6],[2002.42,2281.7]];

const hD13 = [[1988.88,1.486],[1989.04,1.46],[1989.23,1.65],[1989.40,1.474],[1989.50,1.556],[1989.62,1.565],[1989.72,1.58],[1989.82,1.705],[1989.93,1.618],[1990.10,1.609],[1990.27,1.547],[1990.45,1.539],[1990.58,1.635],[1990.99,1.583],[1991.19,1.477],[1991.32,1.46],[1991.42,1.455],[1991.58,1.504],[1991.77,1.53],[1991.97,1.521],[1992.14,1.416],[1992.30,1.434],[1992.49,1.46],[1992.69,1.486],[1992.82,1.513],[1992.92,1.51],[1993.08,1.389],[1993.20,1.425],[1993.40,1.43],[1993.60,1.45],[1993.73,1.477],[1993.88,1.434],[1994.00,1.42],[1994.18,1.355],[1994.38,1.363],[1994.57,1.372],[1994.64,1.434],[1994.70,1.43],[1994.77,1.407],[1995.03,1.381],[1995.27,1.355],[1995.40,1.37],[1995.55,1.385],[1995.68,1.389],[1995.88,1.407],[1996.07,1.334],[1996.20,1.34],[1996.44,1.346],[1996.60,1.425],[1996.70,1.425],[1996.79,1.425],[1996.92,1.355],[1997.05,1.346],[1997.22,1.276],[1997.31,1.293],[1997.44,1.363]];
const hD13Late = [[1997.44,1.363],[1997.77,1.416],[1997.99,1.346],[1998.16,1.302],[1998.29,1.328],[1998.42,1.284],[1998.55,1.337],[1998.61,1.416],[1998.81,1.293],[1998.94,1.319],[1999.20,1.258],[1999.39,1.293],[1999.59,1.284],[1999.78,1.258],[1999.98,1.205],[2000.18,1.249],[2000.24,1.223],[2000.37,1.284],[2000.50,1.346],[2000.63,1.275],[2000.82,1.266],[2001.02,1.223],[2001.15,1.17],[2001.28,1.214],[2001.48,1.196],[2001.67,1.249],[2001.86,1.284],[2002.00,1.214],[2002.13,1.162],[2002.25,1.13]];

const hPco2 = [[1988.85,332.6],[1988.90,323.7],[1989.00,325],[1989.20,320.8],[1989.37,316.3],[1989.50,334],[1989.60,338],[1989.70,341.5],[1989.76,342],[1989.83,334],[1989.93,322.2],[1990.08,319.3],[1990.20,320],[1990.35,326.7],[1990.47,338.6],[1990.60,344.4],[1990.80,332],[1991.00,326.7],[1991.10,327],[1991.19,316.3],[1991.32,331],[1991.51,346],[1991.64,350.4],[1991.84,346],[1991.97,332.6],[1992.13,317.2],[1992.30,329.7],[1992.50,346],[1992.62,340],[1992.82,341.5],[1992.95,332.6],[1993.08,314.8],[1993.20,319.3],[1993.36,325.2],[1993.53,344.4],[1993.72,344.4],[1993.92,334],[1994.05,320.8],[1994.22,332.6],[1994.38,344.4],[1994.57,350.4],[1994.74,357.8],[1994.84,347.5],[1994.95,335],[1995.10,320.8],[1995.20,322],[1995.30,331],[1995.43,323.7],[1995.62,347.5],[1995.79,343],[1995.92,335.6],[1996.07,331],[1996.23,322.2],[1996.36,348.9],[1996.53,348.9],[1996.66,352],[1996.72,353.3],[1996.92,331],[1997.00,333],[1997.09,335.6],[1997.16,338],[1997.22,341.5],[1997.31,350.4],[1997.38,344.4]];
const hPco2Late = [[1997.38,344.4],[1997.50,344.4],[1997.70,356.3],[1997.90,362.2],[1998.05,323.7],[1998.16,338.6],[1998.29,350.4],[1998.48,353.3],[1998.70,359.3],[1998.83,356.3],[1999.00,341.5],[1999.20,350.4],[1999.39,356.3],[1999.60,368.2],[1999.78,354.8],[1999.98,344.4],[2000.20,343],[2000.43,366.7],[2000.63,360.8],[2000.86,357.8],[2001.09,365.2],[2001.28,346],[2001.52,362.2],[2001.73,359.3],[2002.00,351.9],[2002.19,341.5],[2002.43,353.3]];
const hPco2Atm = [[1983.0,338.6],[1983.2,340.0],[1983.65,331.0],[1984.35,342.0],[1984.72,332.6],[1985.4,344.4],[1985.73,334.0],[1986.4,346.0],[1986.73,336.0],[1987.4,347.5],[1987.72,338.6],[1988.44,350.4],[1988.83,340.0],[1989.5,353.3],[1989.86,343.0],[1990.47,354.8],[1990.86,344.4],[1991.45,355.5],[1991.82,346.0],[1992.45,356.5],[1992.8,347.5],[1993.45,357.5],[1993.8,349.0],[1994.45,359.0],[1994.8,350.5],[1995.45,361.0],[1995.8,352.0],[1996.45,362.5],[1996.8,353.5],[1997.45,364.0],[1997.8,355.0],[1998.45,365.5],[1998.8,357.0],[1999.45,367.0],[1999.8,358.0],[2000.45,368.0],[2000.8,359.5],[2001.45,369.0],[2001.8,360.5],[2002.2,366.0]];

// ---------------- chart ----------------
const FONT = "'Liberation Sans', Arial, Helvetica, sans-serif";
const N_S = "CDRG: Station 'S'", N_B = 'CDRG: BATS', N_T = 'Bates: BATS';
function steps(a, b, step, dec) {
  const out = []; const n = Math.round((b - a) / step);
  for (let k = 0; k <= n; k++) out.push(+(a + k * step).toFixed(dec));
  return out;
}
function minusSet(list, majors) { return list.filter(v => !majors.some(m => Math.abs(m - v) < 1e-6)); }
const B_XMAJ = B_YEAR_LABELS.slice();
const H_XMAJ = H_YEAR_LABELS.slice();
const B_XMIN = minusSet(steps(1983 + 1/3, B_TICK_END, 1/3, 4).filter(v => v <= B_TICK_END), B_XMAJ);
const H_XMIN = minusSet(steps(1983 + 1/3, H_TICK_END, 1/3, 4).filter(v => v <= H_TICK_END), H_XMAJ);
const B_DIC_MAJ = [1920, 1940, 1960, 1980], B_DIC_MIN = minusSet(steps(1920, 1980, 2, 0), B_DIC_MAJ);
const B_ALK_MAJ = [2270, 2280, 2290, 2300], B_ALK_MIN = minusSet(steps(2270, 2300, 1, 0), B_ALK_MAJ);
const B_D13_MAJ = [1.0, 1.2, 1.4, 1.6], B_D13_MIN = minusSet(steps(1.0, 1.7, 0.02, 2), B_D13_MAJ);
const B_PCO_MAJ = [300, 340, 380], B_PCO_MIN = minusSet(steps(300, 408, 4, 0), B_PCO_MAJ);
const H_DIC_MAJ = [1940, 1960, 1980, 2000], H_DIC_MIN = minusSet(steps(1940, 2000, 2, 0), H_DIC_MAJ);
const H_D13_MAJ = [1.2, 1.4, 1.6, 1.8], H_D13_MIN = minusSet(steps(1.1, 1.8, 0.02, 2), H_D13_MAJ);

const BL = 76.5, BW = 512, HL = 719, HW = 512;
const FRAME_H = 502, PX_PER_YEAR = BW / 20;
const grid = [
  {left: BL, top: 35, width: BW, height: FRAME_H},
  {left: BL, top: 35, width: BW, height: 152},
  {left: BL, top: 188, width: BW, height: 74},
  {left: BL, top: 267.5, width: BW, height: 134.75},
  {left: BL, top: 402.95, width: BW, height: 123.75},
  {left: HL, top: 35, width: HW, height: FRAME_H},
  {left: HL, top: 35, width: HW, height: 152},
  {left: HL, top: 188, width: HW, height: 74},
  {left: HL, top: 268.4, width: HW, height: 132.7},
  {left: HL, top: 402.95, width: HW, height: 123.75}
];
const blk = '#000';
function frameX(g, pos, line, labels) {
  return {
    type: 'value', gridIndex: g, position: pos, min: 1983, max: 2003,
    axisLine: {show: line, onZero: false, lineStyle: {color: blk, width: 1.6}},
    axisTick: {show: false},
    axisLabel: labels ? {show: true, customValues: labels.map(y => y + 0.5), formatter: v => String(Math.floor(v)),
      fontSize: 13, color: blk, fontFamily: FONT, margin: 7} : {show: false},
    splitLine: {show: false}
  };
}
function hidX(g) { return {type: 'value', gridIndex: g, min: 1983, max: 2003, show: false}; }
const xAxis = [
  frameX(0, 'bottom', true, B_YEAR_LABELS),
  frameX(0, 'top', true, null),
  hidX(1), hidX(2), hidX(3), hidX(4),
  frameX(5, 'bottom', true, H_YEAR_LABELS),
  frameX(5, 'top', true, null),
  hidX(6), hidX(7), hidX(8), hidX(9)
];
function frameY(g, pos) {
  return {type: 'value', gridIndex: g, position: pos, min: 0, max: 1,
    axisLine: {show: true, lineStyle: {color: blk, width: 1.6}}, axisTick: {show: false}, axisLabel: {show: false}, splitLine: {show: false}};
}
function valY(g, pos, min, max, labelVals, dec, inverse) {
  return {type: 'value', gridIndex: g, position: pos, min, max, inverse: !!inverse,
    axisLine: {show: false}, axisTick: {show: false}, minorTick: {show: false},
    axisLabel: {show: true, customValues: labelVals, formatter: v => v.toFixed(dec), fontSize: 13, color: blk, fontFamily: FONT, margin: 5},
    splitLine: {show: false}, minorSplitLine: {show: false}};
}
function hidY(g, min, max, inverse) { return {type: 'value', gridIndex: g, min, max, inverse: !!inverse, show: false}; }
const yAxis = [
  frameY(0, 'left'), frameY(0, 'right'),
  valY(1, 'left', 1920, 1980, B_DIC_MAJ, 0),
  valY(2, 'right', 2270, 2300, B_ALK_MAJ, 0),
  valY(3, 'left', 1.0, 1.7, B_D13_MAJ, 1, true),
  valY(4, 'right', 300, 410, B_PCO_MAJ, 0),
  frameY(5, 'left'),
  valY(6, 'left', 1940, 2000, H_DIC_MAJ, 0),
  hidY(7, 2270, 2300),
  valY(8, 'left', 1.1, 1.8, H_D13_MAJ, 1, true),
  hidY(9, 300, 410)
];

const base = {silent: true, clip: false, animation: false, emphasis: {disabled: true}};
function sqLine(name, data, xi, yi) {
  return Object.assign({name, type: 'line', xAxisIndex: xi, yAxisIndex: yi, data, symbol: 'rect', symbolSize: 5.5,
    lineStyle: {color: '#1a1a1a', width: 0.9}, itemStyle: {color: '#111'}, z: 3}, base);
}
function diaLine(name, data, xi, yi) {
  return Object.assign({name, type: 'line', xAxisIndex: xi, yAxisIndex: yi, data, symbol: 'diamond', symbolSize: 7,
    lineStyle: {color: '#1a1a1a', width: 0.9, type: [3, 2]}, itemStyle: {color: '#fff', borderColor: '#000', borderWidth: 1}, z: 4}, base);
}
function triScatter(name, data, xi, yi, size) {
  return Object.assign({name, type: 'scatter', xAxisIndex: xi, yAxisIndex: yi, data, symbol: 'triangle', symbolSize: size || 8,
    itemStyle: {color: '#000'}, z: 5}, base);
}
function dotLine(data, xi, yi) {
  return Object.assign({type: 'line', xAxisIndex: xi, yAxisIndex: yi, data, symbol: 'circle', symbolSize: 6.5,
    lineStyle: {color: '#1a1a1a', width: 1}, itemStyle: {color: '#000'}, z: 3}, base);
}
function thinLine(data, xi, yi, w) {
  return Object.assign({type: 'line', xAxisIndex: xi, yAxisIndex: yi, data, symbol: 'none', showSymbol: false,
    lineStyle: {color: '#111', width: w || 1}, z: 3}, base);
}
function stripes(xi, yi, years) {
  return {type: 'line', xAxisIndex: xi, yAxisIndex: yi, data: [[1983, -5]], symbol: 'none', silent: true, z: 0,
    lineStyle: {width: 0}, animation: false,
    markArea: {silent: true, itemStyle: {color: '#ebebeb'}, emphasis: {disabled: true},
      data: years.map(y => [{xAxis: y}, {xAxis: y + 1}])}};
}
// tick marks: short markLine segments placed through the axes' own scales
function tickSeries(xi, yi, segs, w) {
  return {type: 'line', xAxisIndex: xi, yAxisIndex: yi, data: [[1983, -1e6]], symbol: 'none', silent: true, z: 8,
    lineStyle: {width: 0}, animation: false,
    markLine: {silent: true, animation: false, symbol: ['none', 'none'], label: {show: false}, emphasis: {disabled: true},
      lineStyle: {color: '#000', width: w, type: 'solid', opacity: 1}, data: segs}};
}
const fx = len => len / FRAME_H;
const yx = len => len / PX_PER_YEAR;
function xTickSegs(vals, len) {
  const out = [];
  vals.forEach(v => {
    out.push([{coord: [v, 0]}, {coord: [v, fx(len)]}]);
    out.push([{coord: [v, 1]}, {coord: [v, 1 - fx(len)]}]);
  });
  return out;
}
function yTickSegs(vals, len, side) {
  return vals.map(v => side === 'left'
    ? [{coord: [1983, v]}, {coord: [1983 + yx(len), v]}]
    : [{coord: [2003, v]}, {coord: [2003 - yx(len), v]}]);
}
const MAJ = 8.5, MIN = 4.5, MAJW = 1.6, MINW = 1.3;

const series = [
  stripes(0, 0, B_STRIPES),
  stripes(6, 6, H_STRIPES),
  tickSeries(0, 0, xTickSegs(B_XMAJ, MAJ), MAJW), tickSeries(0, 0, xTickSegs(B_XMIN, MIN), MINW),
  tickSeries(6, 6, xTickSegs(H_XMAJ, MAJ), MAJW), tickSeries(6, 6, xTickSegs(H_XMIN, MIN), MINW),
  tickSeries(2, 2, yTickSegs(B_DIC_MAJ, MAJ, 'left'), MAJW), tickSeries(2, 2, yTickSegs(B_DIC_MIN, MIN, 'left'), MINW),
  tickSeries(3, 3, yTickSegs(B_ALK_MAJ, MAJ, 'right'), MAJW), tickSeries(3, 3, yTickSegs(B_ALK_MIN, MIN, 'right'), MINW),
  tickSeries(4, 4, yTickSegs(B_D13_MAJ, MAJ, 'left'), MAJW), tickSeries(4, 4, yTickSegs(B_D13_MIN, MIN, 'left'), MINW),
  tickSeries(5, 5, yTickSegs(B_PCO_MAJ, MAJ, 'right'), MAJW), tickSeries(5, 5, yTickSegs(B_PCO_MIN, MIN, 'right'), MINW),
  tickSeries(8, 7, yTickSegs(H_DIC_MAJ, MAJ, 'left'), MAJW), tickSeries(8, 7, yTickSegs(H_DIC_MIN, MIN, 'left'), MINW),
  tickSeries(10, 9, yTickSegs(H_D13_MAJ, MAJ, 'left'), MAJW), tickSeries(10, 9, yTickSegs(H_D13_MIN, MIN, 'left'), MINW),
  // Bermuda sDIC
  sqLine(N_S, bSdicS, 2, 2), diaLine(N_B, bSdicB, 2, 2), triScatter(N_T, bSdicT, 2, 2),
  // Bermuda sAlk
  sqLine(N_S, bAlkS, 3, 3), diaLine(N_B, bAlkB, 3, 3),
  // Bermuda d13C
  sqLine(N_S, bD13S, 4, 4), diaLine(N_B, bD13B, 4, 4),
  // Bermuda pCO2
  Object.assign({type: 'line', xAxisIndex: 5, yAxisIndex: 5, data: bPco2Atm, symbol: 'none', smooth: 0.5,
    lineStyle: {color: '#000', width: 3}, z: 2}, base),
  sqLine(N_S, bPco2S, 5, 5), diaLine(N_B, bPco2B, 5, 5),
  // Hawaii sDIC
  dotLine(hSdic, 8, 7), thinLine(hSdicLate, 8, 7),
  Object.assign({type: 'scatter', xAxisIndex: 8, yAxisIndex: 7, data: hSdicDia, symbol: 'diamond', symbolSize: 7, itemStyle: {color: '#000'}, z: 4}, base),
  Object.assign({type: 'scatter', xAxisIndex: 8, yAxisIndex: 7, data: hSdicTri, symbol: 'triangle', symbolSize: 8, itemStyle: {color: '#000'}, z: 4}, base),
  // Hawaii sAlk
  dotLine(hAlk, 9, 8), thinLine(hAlkLate, 9, 8),
  // Hawaii d13C
  dotLine(hD13, 10, 9), thinLine(hD13Late, 10, 9),
  // Hawaii pCO2
  Object.assign({type: 'line', xAxisIndex: 11, yAxisIndex: 10, data: hPco2Atm, symbol: 'none',
    lineStyle: {color: '#000', width: 2.5}, z: 2}, base),
  dotLine(hPco2, 11, 10), thinLine(hPco2Late, 11, 10)
];

const txt = (x, y, text, opt) => Object.assign({type: 'text', x, y, silent: true, z: 100,
  style: Object.assign({text, fill: '#000', fontSize: 14, fontFamily: FONT, align: 'center', verticalAlign: 'middle',
    rich: {
      i: {fontStyle: 'italic', fontSize: 14, fontFamily: FONT, fill: '#000'},
      n: {fontSize: 14, fontFamily: FONT, fill: '#000'},
      sup: {fontSize: 9, fontFamily: FONT, fill: '#000', padding: [0, 0, 8, 0]},
      sub: {fontSize: 9, fontFamily: FONT, fill: '#000', padding: [7, 0, 0, 0]}
    }}, opt || {})});
const rot = Math.PI / 2;
const graphic = [
  txt(77, 17, 'BERMUDA', {fontStyle: 'italic', fontSize: 15, align: 'left'}),
  txt(719, 17, 'HAWAII', {fontStyle: 'italic', fontSize: 15, align: 'left'}),
  Object.assign(txt(27, 110, '{i|sDIC}{n| (µmol kg}{sup|-1}{n|)}'), {rotation: rot}),
  Object.assign(txt(38, 333, '{n|δ}{sup|13}{n|C (per mil)}'), {rotation: rot}),
  Object.assign(txt(638, 225, '{i|sAlk}{n| (µmol kg}{sup|-1}{n|)}'), {rotation: rot}),
  Object.assign(txt(636, 467, '{n|pCO}{sub|2}{n| (µatm)}'), {rotation: rot}),
  Object.assign(txt(665, 110, '{i|sDIC}{n| (µmol kg}{sup|-1}{n|)}'), {rotation: rot}),
  Object.assign(txt(677, 333, '{n|δ}{sup|13}{n|C}{sub|oc}{n| (per mil)}'), {rotation: rot}),
  txt(805, 123, '{i|sDIC}'),
  txt(802, 229, '{i|sAlk}'),
  txt(804, 363, '{n|δ}{sup|13}{n|C}'),
  txt(808, 507, '{i|p}{n|CO}{sub|2}')
];

const option = {
  animation: false,
  backgroundColor: '#fff',
  grid, xAxis, yAxis, series, graphic,
  legend: {
    data: [N_S, N_B, N_T], orient: 'vertical', left: 455, top: 143, itemWidth: 26, itemHeight: 7, itemGap: 1,
    backgroundColor: '#fff', padding: [3, 6, 5, 4], selectedMode: false, z: 10,
    textStyle: {fontSize: 11, fontFamily: FONT, color: '#000'}
  }
};
const chart = echarts.init(document.getElementById('c'), null, {renderer: 'canvas'});
chart.setOption(option);
</script>
</body></html>
